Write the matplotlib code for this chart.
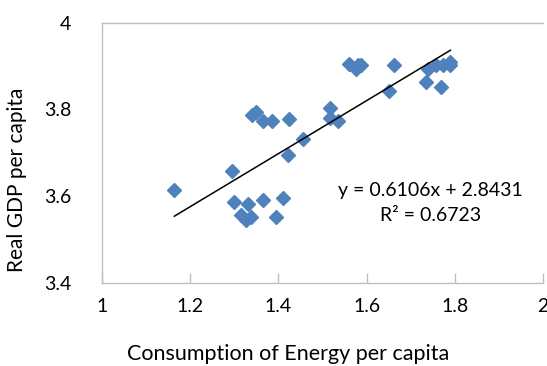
import numpy as np
import matplotlib.pyplot as plt

# Energy consumption vs. real GDP (both per capita)
vecEnergy = [1.164, 1.295, 1.299, 1.330, 1.315, 1.326, 1.338, 1.366,
             1.394, 1.411, 1.421, 1.340, 1.349, 1.366, 1.386, 1.425,
             1.456, 1.517, 1.517, 1.535, 1.561, 1.580, 1.588, 1.576,
             1.651, 1.662, 1.735, 1.739, 1.758, 1.768, 1.774, 1.790,
             1.790]
vecGdp = [3.615, 3.657, 3.587, 3.583, 3.557, 3.545, 3.553, 3.591,
          3.553, 3.596, 3.694, 3.786, 3.795, 3.774, 3.773, 3.778,
          3.732, 3.804, 3.781, 3.774, 3.904, 3.901, 3.901, 3.893,
          3.843, 3.903, 3.862, 3.893, 3.901, 3.852, 3.901, 3.908,
          3.901]

# Linear trend parameters
varSlope = 0.6106
varIntcpt = 2.8431
varR2 = 0.6723

plt.rcParams['font.family'] = ['Lato', 'DejaVu Sans']

fgr01 = plt.figure(figsize=(5.47, 3.66), dpi=100)
axs01 = fgr01.add_axes([0.1865, 0.2268, 0.8062, 0.7117])

axs01.plot(vecEnergy, vecGdp, linestyle='none', marker='D',
           markersize=7.5, color='#4F81BD', markeredgecolor='#4F81BD')

# Trend line over the range of the data
vecX = np.array([min(vecEnergy), max(vecEnergy)])
axs01.plot(vecX, varSlope * vecX + varIntcpt, color='black', linewidth=1.1)

axs01.set_xlim(1, 2)
axs01.set_ylim(3.4, 4)
axs01.set_xticks([1, 1.2, 1.4, 1.6, 1.8, 2])
axs01.set_xticklabels(['1', '1.2', '1.4', '1.6', '1.8', '2'])
axs01.set_yticks([3.4, 3.6, 3.8, 4])
axs01.set_yticklabels(['3.4', '3.6', '3.8', '4'])

axs01.tick_params(axis='x', direction='in', length=7, width=1,
                  color='#BFBFBF', labelsize=14, pad=11)
axs01.tick_params(axis='y', length=0, labelsize=14, pad=22)

for strTmp in ['top', 'bottom', 'left', 'right']:
    axs01.spines[strTmp].set_color('#BFBFBF')
    axs01.spines[strTmp].set_linewidth(1.0)
axs01.spines['right'].set_visible(False)

axs01.text(1.745, 3.613, 'y = 0.6106x + 2.8431', ha='center',
           va='center', fontsize=14)
axs01.text(1.745, 3.556, 'R² = ' + str(varR2), ha='center',
           va='center', fontsize=14)

fgr01.text(288 / 547, 1 - 354 / 366, 'Consumption of Energy per capita',
           ha='center', va='center', fontsize=15.5)
fgr01.text(17 / 547, 1 - 180 / 366, 'Real GDP per capita', ha='center',
           va='center', rotation=90, fontsize=15)

fgr01.savefig('out.png', facecolor='w')
plt.close(fgr01)
